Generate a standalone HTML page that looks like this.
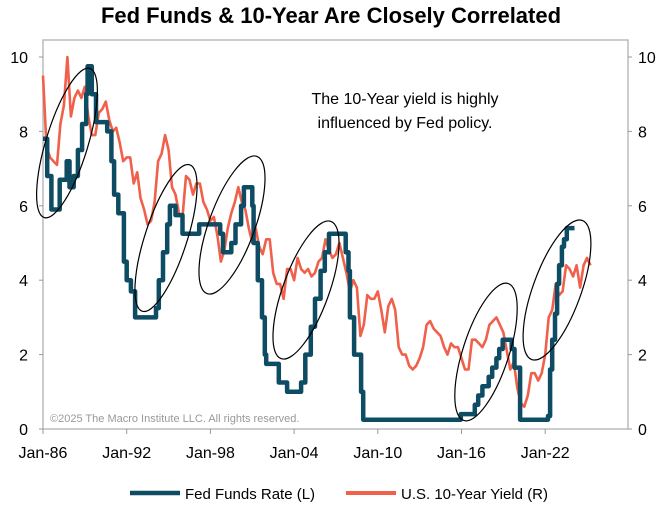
<!DOCTYPE html>
<html><head><meta charset="utf-8"><style>
body{margin:0;background:#fff;width:662px;height:513px;overflow:hidden;font-family:"Liberation Sans",Arial,sans-serif}
</style></head><body>
<svg id="chart" width="662" height="513" xmlns="http://www.w3.org/2000/svg" font-family="Liberation Sans, Arial, sans-serif">
<text x="331" y="23" text-anchor="middle" font-size="22" font-weight="bold">Fed Funds &amp; 10-Year Are Closely Correlated</text>
<g id="frame"></g>
<g id="series"></g>
<g id="ellipses" fill="none" stroke="#000" stroke-width="1.2"></g>
<text x="405" y="104" text-anchor="middle" font-size="16">The 10-Year yield is highly</text>
<text x="405" y="128" text-anchor="middle" font-size="16">influenced by Fed policy.</text>
<text x="50" y="422" font-size="11" fill="#999">©2025 The Macro Institute LLC. All rights reserved.</text>
<g>
<line x1="130" y1="493" x2="180" y2="493" stroke="#0e4c63" stroke-width="4.5"/>
<text x="185" y="499" font-size="15">Fed Funds Rate (L)</text>
<line x1="346" y1="493" x2="396" y2="493" stroke="#f0604a" stroke-width="4"/>
<text x="401" y="499" font-size="15">U.S. 10-Year Yield (R)</text>
</g>
</svg>
<script>
const xTickLabels=["Jan-86","Jan-92","Jan-98","Jan-04","Jan-10","Jan-16","Jan-22"];
const xTickYears=[1986,1992,1998,2004,2010,2016,2022];
const yTicks=[0,2,4,6,8,10];
const fedYears=[1986,1986.3,1986.6,1987.2,1987.7,1987.9,1988.2,1988.5,1988.8,1989.1,1989.2,1989.5,1989.8,1990.6,1990.9,1991.1,1991.4,1991.8,1992.0,1992.3,1992.6,1994.1,1994.3,1994.6,1994.9,1995.1,1995.5,1996.0,1997.2,1998.7,1998.9,1999.5,1999.8,2000.2,2000.4,2001.0,2001.1,2001.4,2001.7,2001.9,2002.0,2002.9,2003.5,2004.5,2004.8,2005.2,2005.5,2005.9,2006.2,2006.5,2007.7,2007.9,2008.0,2008.3,2008.8,2008.95,2015.95,2016.95,2017.2,2017.5,2017.95,2018.2,2018.5,2018.7,2018.95,2019.6,2019.8,2020.2,2022.2,2022.35,2022.5,2022.7,2022.85,2023.0,2023.2,2023.35,2023.55,2024.1];
const fedRates=[7.8,6.8,5.9,6.7,7.2,6.5,6.8,7.5,8.2,9.0,9.75,9.0,8.25,8.0,7.2,6.3,5.8,4.5,4.0,3.7,3.0,3.25,4.0,4.75,5.5,6.0,5.75,5.25,5.5,5.25,4.75,5.0,5.5,6.0,6.5,6.0,5.0,4.0,3.0,2.0,1.75,1.25,1.0,1.25,2.0,2.75,3.5,4.25,4.75,5.25,4.75,4.25,3.0,2.0,1.0,0.25,0.4,0.65,0.9,1.15,1.4,1.65,1.9,2.15,2.4,2.15,1.65,0.25,0.35,1.6,2.4,3.1,3.9,4.4,4.9,5.1,5.4,5.4];
const tenYrStart=1986;
const tenYrValues=[9.5,7.6,7.3,7.2, 7.1,8.2,8.7,10.0, 8.4,8.9,9.1,8.9, 9.2,8.4,7.9,7.9, 8.5,8.6,8.8,8.3, 8.0,8.1,7.7,7.2, 7.3,7.3,6.6,6.9, 6.2,5.9,5.5,5.6, 6.1,7.2,7.4,7.9, 7.5,6.5,6.3,5.8, 5.7,6.8,6.7,6.3, 6.6,6.6,6.1,5.9, 5.6,5.7,5.2,4.5, 4.8,5.4,5.8,6.1, 6.5,6.1,5.9,5.4, 5.0,5.4,4.9,4.7, 5.1,5.1,4.2,3.9, 3.9,3.5,4.3,4.3, 4.0,4.6,4.3,4.2, 4.3,4.1,4.2,4.5, 4.6,5.1,4.8,4.6, 4.7,5.0,4.6,4.2, 3.7,4.0,3.8,2.5, 2.8,3.6,3.5,3.5, 3.7,3.2,2.6,3.3, 3.5,3.2,2.2,2.0, 2.0,1.7,1.6,1.7, 1.9,2.2,2.8,2.9, 2.7,2.6,2.5,2.2, 2.0,2.3,2.2,2.2, 1.9,1.6,1.6,2.4, 2.4,2.3,2.2,2.4, 2.8,2.9,3.0,2.8, 2.6,2.1,1.6,1.8, 1.1,0.7,0.6,0.9, 1.5,1.5,1.3,1.5, 2.0,3.0,3.2,3.9, 3.6,3.7,4.4,4.3, 4.1,4.4,3.8,4.4, 4.6,4.4];
const NS="http://www.w3.org/2000/svg";
const X0=43,X1=628,Y0=429,Y10=57;
function xs(y){return X0+(y-1986)*13.95;}
function ys(v){return Y0-(Y0-Y10)*v/10;}
function mk(tag,attrs,parent){const e=document.createElementNS(NS,tag);for(const k in attrs)e.setAttribute(k,attrs[k]);parent.appendChild(e);return e;}
const frame=document.getElementById('frame');
mk('rect',{x:X0,y:40,width:X1-X0,height:Y0-40,fill:'none',stroke:'#bbb','stroke-width':1.5},frame);
yTicks.forEach(v=>{
  const t=mk('text',{x:28,y:ys(v)+6,'text-anchor':'end','font-size':16},frame);t.textContent=v;
  
  
  const t2=mk('text',{x:638,y:ys(v)+6,'font-size':16},frame);t2.textContent=v;
  
  
  mk('line',{x1:X0-4,x2:X0,y1:ys(v),y2:ys(v),stroke:'#999'},frame);
  mk('line',{x1:X1,x2:X1+4,y1:ys(v),y2:ys(v),stroke:'#999'},frame);
});
xTickYears.forEach((yr,i)=>{
  mk('line',{x1:xs(yr),x2:xs(yr),y1:Y0,y2:Y0+5,stroke:'#999'},frame);
  const t=mk('text',{x:xs(yr),y:458,'text-anchor':'middle','font-size':16},frame);t.textContent=xTickLabels[i];
  
  
});
const g=document.getElementById('series');
let d='';
tenYrValues.forEach((v,i)=>{d+=(i?'L':'M')+xs(tenYrStart+i*0.25).toFixed(1)+','+ys(v).toFixed(1);});
const ten=mk('path',{d:d,fill:'none',stroke:'#f0604a','stroke-width':2.6,'stroke-linejoin':'round'},g);


let f='';
fedYears.forEach((yr,i)=>{
  if(i===0)f+='M'+xs(yr).toFixed(1)+','+ys(fedRates[i]).toFixed(1);
  else f+='H'+xs(yr).toFixed(1)+'V'+ys(fedRates[i]).toFixed(1);
});
const fed=mk('path',{d:f,fill:'none',stroke:'#0e4c63','stroke-width':4.5,'stroke-linejoin':'round'},g);


const el=document.getElementById('ellipses');
[[67,143,21,78,17],[166,238,21,77,18],[232,225,23,73,20],[306,290,23,73,20],[486,352,23,72,18],[557,290,24,74,20]].forEach(a=>{
  const e=mk('ellipse',{cx:a[0],cy:a[1],rx:a[2],ry:a[3],transform:`rotate(${a[4]} ${a[0]} ${a[1]})`},el);
  
  
});
</script>
</body></html>
